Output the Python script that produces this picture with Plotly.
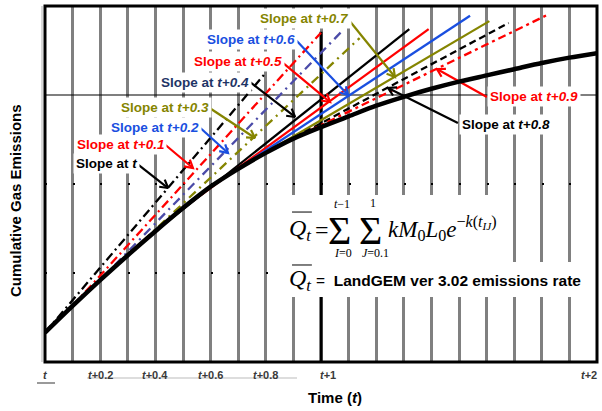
import math
import plotly.graph_objects as go

# ---------------- data ----------------
time_x = [0.0, 0.1, 0.2, 0.3, 0.4, 0.5, 0.6, 0.7, 0.8, 0.9, 1.0,
          1.1, 1.2, 1.3, 1.4, 1.5, 1.6, 1.7, 1.8, 1.9, 2.0]
cumulative = [0.33, 0.63, 0.92, 1.20, 1.47, 1.73, 1.97, 2.17, 2.35, 2.51, 2.64,
              2.76, 2.88, 2.98, 3.07, 3.15, 3.22, 3.29, 3.36, 3.42, 3.47]

slope_names = ["t", "t+0.1", "t+0.2", "t+0.3", "t+0.4",
               "t+0.5", "t+0.6", "t+0.7", "t+0.8", "t+0.9"]
slope_at = [0.0, 0.1, 0.2, 0.3, 0.4, 0.5, 0.6, 0.7, 0.8, 0.9]
tangent_end_x = [0.80, 1.00, 1.08, 1.14, 1.32, 1.39, 1.54, 1.61, 1.68, 1.82]
tangent_end_y = [3.25, 3.70, 3.73, 3.64, 3.74, 3.74, 3.89, 3.83, 3.81, 3.90]

tick_vals = [0.0, 0.2, 0.4, 0.6, 0.8, 1.0, 2.0]
tick_text = ["t", "t+0.2", "t+0.4", "t+0.6", "t+0.8", "t+1", "t+2"]

ref_time = 1.0       # t+1 marker line
ref_top = 3.71
ref_level = 3.0      # horizontal reference line

# ---------------- styles / positions ----------------
RED, BLUE, OLIVE, SLATE, NAVY = "#ff0000", "#1a4fe0", "#858500", "#4b4ba8", "#1f3566"
line_colors = ["black", RED, SLATE, OLIVE, "black", RED, BLUE, OLIVE, "black", RED]
line_dash = ["9px,4px,2px,4px", "9px,4px,2px,4px", "9px,5px,2px,5px", "9px,5px,2px,5px",
             "solid", "solid", "solid", "solid", "7px,4px", "8px,4px,3px,4px"]
label_colors = ["black", RED, BLUE, OLIVE, NAVY, RED, BLUE, OLIVE, "black", RED]
arrow_colors = ["black", RED, BLUE, OLIVE, "black", RED, BLUE, OLIVE, "black", RED]
label_pos = [(0.221, 2.225), (0.274, 2.449), (0.397, 2.640), (0.433, 2.865), (0.578, 3.146),
             (0.701, 3.371), (0.748, 3.629), (0.942, 3.865), (1.670, 2.674), (1.770, 2.978)]
arrow_tail = [(0.326, 2.247), (0.428, 2.461), (0.551, 2.663), (0.591, 2.865), (0.743, 3.146),
              (0.862, 3.360), (0.909, 3.618), (1.098, 3.854), (1.496, 2.685), (1.601, 2.978)]
arrow_head = [(0.446, 1.955), (0.536, 2.180), (0.663, 2.348), (0.761, 2.517), (0.906, 2.753),
              (1.033, 2.921), (1.098, 3.000), (1.268, 3.202), (1.243, 3.079), (1.420, 3.292)]

W, H = 602, 411
ML, MR, MT, MB = 45, 5, 6, 49
PW, PH = W - ML - MR, H - MT - MB
XR, YR = (0, 2), (0, 4)
PXX = PW / (XR[1] - XR[0])
PXY = PH / (YR[1] - YR[0])

fig = go.Figure()

# t+1 reference line
fig.add_trace(go.Scatter(x=[ref_time, ref_time], y=[0, ref_top], mode="lines",
                         line=dict(color="black", width=3), hoverinfo="skip", showlegend=False))

# tangent lines
for i, s in enumerate(slope_at):
    y0 = cumulative[time_x.index(s)]
    fig.add_trace(go.Scatter(x=[s, tangent_end_x[i]], y=[y0, tangent_end_y[i]], mode="lines",
                             line=dict(color=line_colors[i], width=2.3, dash=line_dash[i]),
                             hoverinfo="skip", showlegend=False))

# arrows with open heads
def arrow_path(tail, head, length=9, ang=30):
    dx = (head[0] - tail[0]) * PXX
    dy = (head[1] - tail[1]) * PXY
    d = math.hypot(dx, dy)
    ux, uy = -dx / d, -dy / d
    xs, ys = [tail[0], head[0], None], [tail[1], head[1], None]
    arms = []
    for sg in (1, -1):
        a = math.radians(ang * sg)
        rx = ux * math.cos(a) - uy * math.sin(a)
        ry = ux * math.sin(a) + uy * math.cos(a)
        arms.append((head[0] + rx * length / PXX, head[1] + ry * length / PXY))
    xs += [arms[0][0], head[0], arms[1][0]]
    ys += [arms[0][1], head[1], arms[1][1]]
    return xs, ys

for i in range(len(slope_names)):
    xs, ys = arrow_path(arrow_tail[i], arrow_head[i])
    fig.add_trace(go.Scatter(x=xs, y=ys, mode="lines",
                             line=dict(color=arrow_colors[i], width=2.2),
                             hoverinfo="skip", showlegend=False))

# cumulative curve
fig.add_trace(go.Scatter(x=time_x, y=cumulative, mode="lines",
                         line=dict(color="black", width=4.5, shape="spline", smoothing=0.8),
                         hoverinfo="skip", showlegend=False))

shapes = [
    dict(type="line", xref="x", yref="y", x0=XR[0], x1=XR[1], y0=ref_level, y1=ref_level,
         line=dict(color="black", width=1.2), layer="between"),
    dict(type="line", xref="paper", yref="paper", x0=-3 / PW, x1=-3 / PW, y0=0, y1=1.0,
         line=dict(color="#b0b0b0", width=1), layer="above"),
    # formula boxes
    dict(type="rect", xref="x", yref="y", x0=0.851, x1=1.678, y0=1.124, y1=1.876,
         fillcolor="white", line=dict(width=0), layer="above"),
    dict(type="rect", xref="x", yref="y", x0=0.870, x1=1.975, y0=0.730, y1=1.124,
         fillcolor="white", line=dict(width=0), layer="above"),
    # overlines
    dict(type="line", xref="x", yref="y", x0=0.895, x1=0.967, y0=1.685, y1=1.685,
         line=dict(color="black", width=1), layer="above"),
    dict(type="line", xref="x", yref="y", x0=0.895, x1=0.967, y0=1.090, y1=1.090,
         line=dict(color="black", width=1), layer="above"),
    # frame
    dict(type="rect", xref="paper", yref="paper", x0=0, x1=1, y0=0, y1=1,
         line=dict(color="black", width=3), layer="above"),
    # faint underline artifacts
    dict(type="line", xref="paper", yref="paper", x0=-8 / PW, x1=10 / PW, y0=-21 / PH, y1=-21 / PH,
         line=dict(color="#9a9a9a", width=2), layer="above"),
    dict(type="line", xref="paper", yref="paper", x0=42 / PW, x1=252 / PW, y0=-16 / PH, y1=-16 / PH,
         line=dict(color="#dddddd", width=2), layer="above"),
]

ann = []
LBL_FONT = "Liberation Sans, Arial, sans-serif"
for i, name in enumerate(slope_names):
    ann.append(dict(x=label_pos[i][0], y=label_pos[i][1], xref="x", yref="y",
                    text="<b>Slope at <i>%s</i></b>" % name, showarrow=False,
                    font=dict(family=LBL_FONT, size=13.5, color=label_colors[i]),
                    bgcolor="white", borderpad=2, xanchor="center", yanchor="middle"))

tick_shift = [0, 0, 0, 0, 0, 7, -8]
for v, t, sh in zip(tick_vals, tick_text, tick_shift):
    ann.append(dict(x=v, y=-13 / PH, xref="x", yref="paper", xshift=sh,
                    text="<b><i>t</i>%s</b>" % t[1:], showarrow=False,
                    font=dict(family=LBL_FONT, size=11, color="#3a3a3a"),
                    xanchor="center", yanchor="middle"))

ann.append(dict(x=290 / PW, y=-35 / PH, xref="paper", yref="paper", showarrow=False,
                text="<b>Time (<i>t</i>)</b>", font=dict(family=LBL_FONT, size=15, color="black"),
                xanchor="center", yanchor="middle"))
ann.append(dict(x=-29 / PW, y=161 / PH, xref="paper", yref="paper", showarrow=False, textangle=-90,
                text="<b>Cumulative Gas Emissions</b>", font=dict(family=LBL_FONT, size=15, color="black"),
                xanchor="center", yanchor="middle"))

SERIF = "Liberation Serif, Times New Roman, serif"
fy = 1.483
ann += [
    dict(x=0.971, y=fy, text="<i>Q</i><sub><i>t</i></sub>", xanchor="right",
         font=dict(family=SERIF, size=24)),
    dict(x=1.003, y=fy, text="=", xanchor="center", font=dict(family=SERIF, size=24)),
    dict(x=1.068, y=fy, text="Σ", xanchor="center", font=dict(family=SERIF, size=40)),
    dict(x=1.076, y=1.775, text="<i>t</i>−1", xanchor="center", font=dict(family=SERIF, size=12)),
    dict(x=1.080, y=1.225, text="<i>I</i>=0", xanchor="center", font=dict(family=SERIF, size=12)),
    dict(x=1.180, y=fy, text="Σ", xanchor="center", font=dict(family=SERIF, size=40)),
    dict(x=1.188, y=1.785, text="1", xanchor="center", font=dict(family=SERIF, size=12)),
    dict(x=1.196, y=1.225, text="<i>J</i>=0.1", xanchor="center", font=dict(family=SERIF, size=12)),
    dict(x=1.236, y=1.50, xanchor="left", font=dict(family=SERIF, size=23),
         text="<i>kM</i><sub>0</sub><i>L</i><sub>0</sub><i>e</i><sup>−<i>k</i>(<i>t</i><sub><i>IJ</i></sub>)</sup>"),
    dict(x=0.971, y=0.921, text="<i>Q</i><sub><i>t</i></sub>", xanchor="right",
         font=dict(family=SERIF, size=24)),
    dict(x=0.975, y=0.921, xanchor="left", font=dict(family=LBL_FONT, size=15.5),
         text="=  <b>LandGEM ver 3.02 emissions rate</b>"),
]
for a in ann[-11:]:
    a.update(xref="x", yref="y", showarrow=False, yanchor="middle")
    a["font"]["color"] = "black"

fig.update_layout(
    width=W, height=H, margin=dict(l=ML, r=MR, t=MT, b=MB),
    paper_bgcolor="white", plot_bgcolor="white",
    xaxis=dict(range=list(XR), tickmode="linear", tick0=0, dtick=0.1, showticklabels=False,
               showgrid=True, gridcolor="#808080", gridwidth=3, zeroline=False, showline=False,
               ticks=""),
    yaxis=dict(range=list(YR), tickmode="array", tickvals=[1, 2], showticklabels=False,
               showgrid=True, gridcolor="black", gridwidth=1.5, griddash="2px,25.6px",
               zeroline=False, showline=False, ticks=""),
    shapes=shapes, annotations=ann, showlegend=False,
)

fig.write_html("out.html", config={"displayModeBar": False},
               post_script="document.body.style.margin='0';document.body.style.overflow='hidden';")
